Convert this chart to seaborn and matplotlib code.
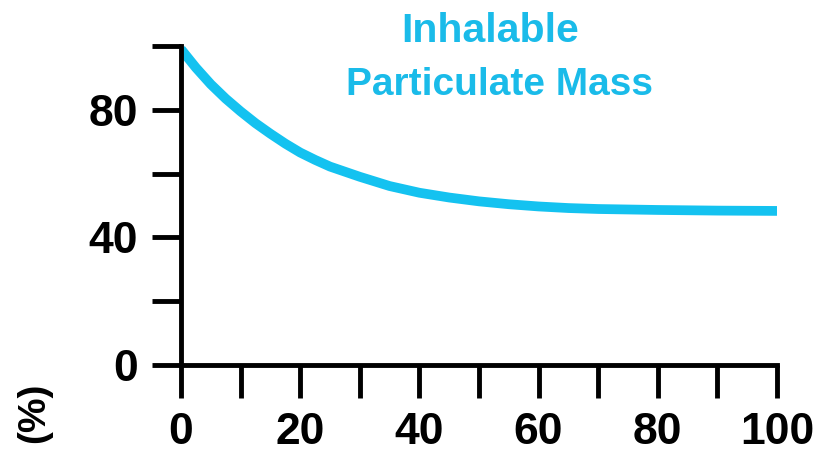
import matplotlib
matplotlib.use("Agg")
import matplotlib.pyplot as plt
import seaborn as sns
import pandas as pd

# ---- data ----
diameter = [0, 2.5, 5, 7.5, 10, 12.5, 15, 17.5, 20, 22.5, 25, 30, 35, 40, 45, 50, 55, 60, 65, 70,
            80, 90, 100]
ipm_pct = [99, 93.2, 88, 83.5, 79.5, 75.8, 72.5, 69.4, 66.6, 64.3, 62.2, 59, 56.1, 54, 52.5, 51.3,
           50.4, 49.7, 49.2, 48.9, 48.6, 48.4, 48.3]
x_ticks = [0, 10, 20, 30, 40, 50, 60, 70, 80, 90, 100]
x_tick_labels = ["0", "", "20", "", "40", "", "60", "", "80", "", "100"]
y_ticks = [0, 20, 40, 60, 80, 100]
y_tick_labels = ["0", "", "40", "", "80", ""]
curve_label = ["Inhalable", "Particulate Mass"]
y_unit = "(%)"

sns.set_theme(style="white")
plt.rcParams["font.family"] = ["Liberation Sans", "DejaVu Sans"]

line_color = "#14C2F0"
text_color = "#1ABBE9"

df = pd.DataFrame({"d": diameter, "p": ipm_pct})

fig = plt.figure(figsize=(8.17, 4.61), dpi=100)
ax = fig.add_axes([181 / 817, 1 - 365 / 461, (777 - 181) / 817, (365 - 46) / 461])
sns.lineplot(data=df, x="d", y="p", ax=ax, color=line_color, linewidth=7,
             solid_capstyle="butt", solid_joinstyle="round")

ax.set_xlim(0, 100)
ax.set_ylim(0, 100)
ax.margins(0)
for s in ["top", "right"]:
    ax.spines[s].set_visible(False)
for s in ["left", "bottom"]:
    ax.spines[s].set_linewidth(3.5)
    ax.spines[s].set_color("black")
    ax.spines[s].set_capstyle("projecting")

ax.set_xticks(x_ticks)
ax.set_xticklabels(x_tick_labels)
ax.set_yticks(y_ticks)
ax.set_yticklabels(y_tick_labels)
ax.tick_params(axis="x", direction="out", length=24, width=3.5, pad=10,
               labelsize=32, colors="black", bottom=True)
ax.tick_params(axis="y", direction="out", length=21, width=3.5, pad=10,
               labelsize=32, colors="black", left=True)
for lab in ax.get_xticklabels() + ax.get_yticklabels():
    lab.set_fontweight("bold")
ax.set_xlabel("")
ax.set_ylabel("")
ax.grid(False)

fig.text(490 / 817, 1 - 42 / 461, curve_label[0], ha="center", va="baseline",
         fontsize=29.5, fontweight="bold", color=text_color)
fig.text(500 / 817, 1 - 95 / 461, curve_label[1], ha="center", va="baseline",
         fontsize=28, fontweight="bold", color=text_color)
fig.text(34 / 817, 1 - 413 / 461, y_unit, rotation=90, ha="center", va="center",
         fontsize=28, fontweight="bold", color="black")

fig.savefig("out.png", dpi=100, facecolor="white")
